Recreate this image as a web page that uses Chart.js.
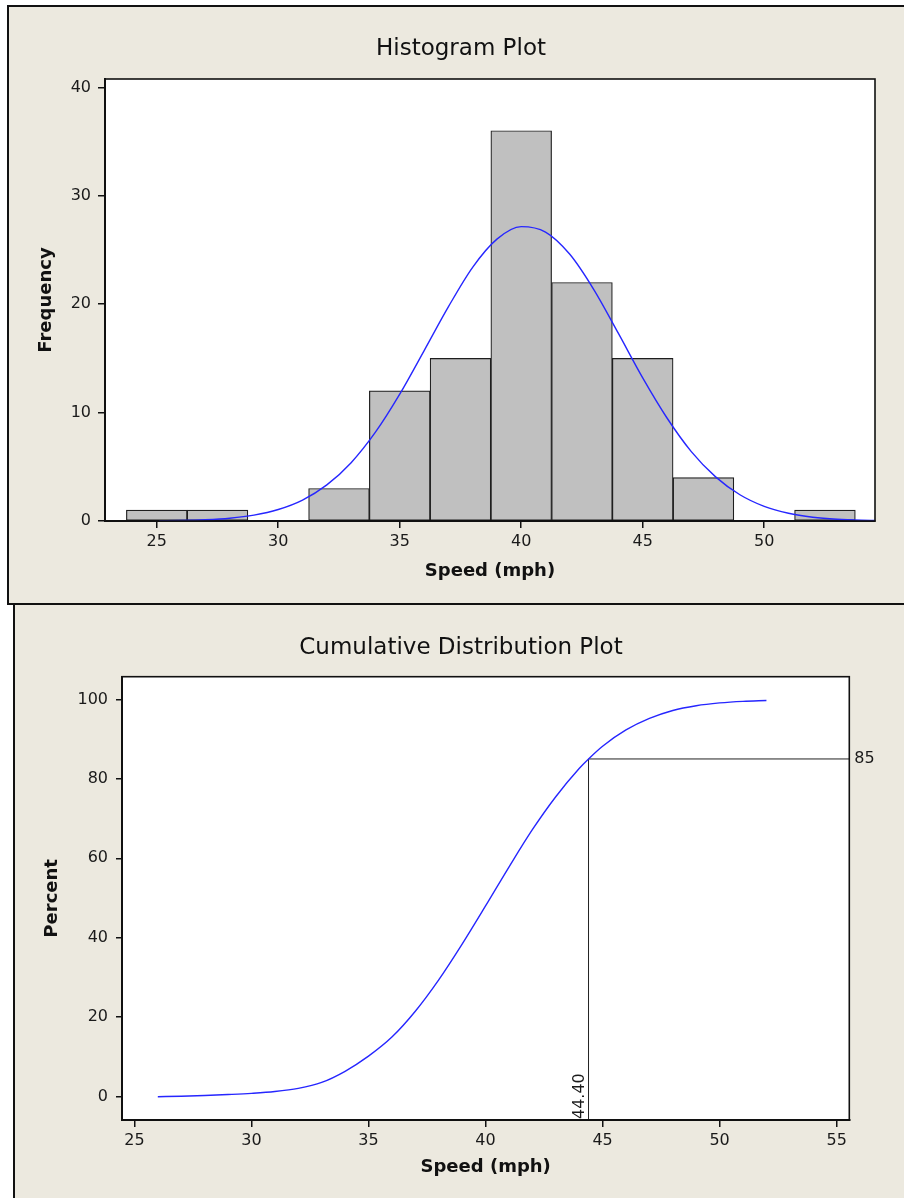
<!DOCTYPE html>
<html lang="en">
<head>
<meta charset="UTF-8">
<title>Histogram and Cumulative Distribution Plot</title>
<script src="https://cdn.jsdelivr.net/npm/chart.js"></script>
<style>
  body { margin:0; background:#fff; width:904px; height:1198px; overflow:hidden; position:relative; }
  .panel { position:absolute; background:#ECE9DF; box-sizing:border-box; }
  #panelTop { left:7px; top:5px; width:920px; height:600px; border:2px solid #111; border-right:none; }
  #panelBottom { left:13px; top:603px; width:920px; height:620px; border-left:2px solid #111; border-top:2px solid #111; }
  canvas { position:absolute; left:0; z-index:2; }
  .plotTitle { position:absolute; left:0; width:922px; height:28px; line-height:28px; text-align:center;
               font-family:"DejaVu Sans", Verdana, sans-serif; font-size:23px; color:#111; z-index:3; }
</style>
</head>
<body>
<div class="panel" id="panelTop"></div>
<div class="panel" id="panelBottom"></div>
<div class="plotTitle" style="top:33px">Histogram Plot</div>
<div class="plotTitle" style="top:632px">Cumulative Distribution Plot</div>
<canvas id="histChart" width="904" height="604" style="top:0"></canvas>
<canvas id="cdfChart" width="904" height="594" style="top:604px"></canvas>

<script>
const FONT = '"DejaVu Sans", Verdana, sans-serif';

// histogram: bin centres (mph) and counts
const histCenters = [25, 27.5, 30, 32.5, 35, 37.5, 40, 42.5, 45, 47.5, 50, 52.5];
const histCounts  = [1, 1, 0, 3, 12, 15, 36, 22, 15, 4, 0, 1];

// fitted normal curve
const fitSpeeds = [25.1, 26, 27, 28, 29, 30, 31, 32, 33, 34, 35, 36, 37, 38, 39, 40, 41, 42, 43, 44, 45, 46, 47, 48, 49, 50, 51, 52, 53, 54, 54.6];
const fitFreq   = [0.02, 0.05, 0.12, 0.26, 0.54, 1.06, 1.93, 3.33, 5.38, 8.19, 11.7, 15.7, 19.75, 23.4, 26.0, 27.15, 26.65, 24.6, 21.3, 17.3, 13.2, 9.5, 6.4, 4.07, 2.42, 1.35, 0.71, 0.35, 0.16, 0.07, 0.05];

// cumulative distribution
const cdfSpeeds  = [26, 27, 28, 29, 30, 31, 32, 33, 34, 35, 36, 37, 38, 39, 40, 41, 42, 43, 44, 44.4, 45, 46, 47, 48, 49, 50, 51, 52];
const cdfPercent = [0.0, 0.12, 0.3, 0.55, 0.85, 1.3, 2.1, 3.6, 6.4, 10.2, 15.0, 21.5, 29.4, 38.4, 48.0, 57.8, 67.2, 75.5, 82.6, 85.0, 88.2, 92.3, 95.2, 97.2, 98.4, 99.1, 99.5, 99.7];
const refSpeed = 44.40;
const refPercent = 85;

// axis ranges
const histX = { min: 22.87, max: 54.56 };
const histY = { min: 0, max: 40.77 };
const cdfX = { min: 24.47, max: 55.54 };
const cdfY = { min: -5.86, max: 105.7 };

const frame = {
  id: 'frame',
  beforeDraw(chart) {
    const { ctx, chartArea: a } = chart;
    ctx.save();
    ctx.fillStyle = '#fff';
    ctx.fillRect(a.left, a.top, a.right - a.left, a.bottom - a.top);
    ctx.restore();
  },
  afterDraw(chart) {
    const { ctx, chartArea: a } = chart;
    ctx.save();
    ctx.strokeStyle = '#111';
    ctx.lineWidth = 1.6;
    ctx.strokeRect(a.left, a.top, a.right - a.left, a.bottom - a.top);
    ctx.restore();
  }
};

function axisX(range, h, titlePadBottom) {
  return {
    type: 'linear', min: range.min, max: range.max, offset: false,
    grid: { display: true, offset: false, drawOnChartArea: false, tickLength: 7, color: '#111', lineWidth: 1.5 },
    border: { color: '#111', width: 2 },
    ticks: { stepSize: 5, includeBounds: false, padding: 4, color: '#1a1a1a', font: { family: FONT, size: 16 } },
    title: { display: true, text: 'Speed (mph)', color: '#111', font: { family: FONT, size: 18, weight: 'bold' }, padding: { top: 0, bottom: titlePadBottom } },
    afterFit: s => { s.height = h; }
  };
}

function axisY(range, step, w, tl, pad, label, titlePadTop) {
  return {
    min: range.min, max: range.max,
    grid: { display: true, drawOnChartArea: false, tickLength: tl, color: '#111', lineWidth: 1.5 },
    border: { color: '#111', width: 2 },
    ticks: { stepSize: step, includeBounds: false, padding: pad, color: '#1a1a1a', font: { family: FONT, size: 16 } },
    title: { display: true, text: label, color: '#111', font: { family: FONT, size: 18, weight: 'bold' }, padding: { top: titlePadTop, bottom: 0 } },
    afterFit: s => { s.width = w; }
  };
}

new Chart(document.getElementById('histChart'), {
  type: 'bar',
  data: {
    datasets: [
      {
        type: 'line', order: 0,
        data: fitSpeeds.map((x, i) => ({ x, y: fitFreq[i] })),
        borderColor: '#2626ff', borderWidth: 1.4, pointRadius: 0,
        cubicInterpolationMode: 'monotone'
      },
      {
        type: 'bar', order: 1,
        data: histCenters.map((x, i) => ({ x, y: histCounts[i] || null })),
        backgroundColor: '#C0C0C0', borderColor: '#1e1e1e', borderWidth: 1.2,
        borderSkipped: false, barPercentage: 1, categoryPercentage: 1
      }
    ]
  },
  options: {
    responsive: false, animation: false,
    layout: { padding: { left: 0, right: 29, top: 79, bottom: 0 } },
    plugins: { legend: { display: false }, tooltip: { enabled: false }, title: { display: false } },
    scales: {
      x: axisX(histX, 83, 22.2),
      y: axisY(histY, 10, 105, 7, 7, 'Frequency', 35.2)
    }
  },
  plugins: [frame]
});

const refLabels = {
  id: 'refLabels',
  afterDraw(chart) {
    const { ctx, chartArea: a, scales: { x, y } } = chart;
    ctx.save();
    ctx.font = '16px ' + FONT;
    ctx.fillStyle = '#1a1a1a';
    ctx.textAlign = 'left';
    ctx.textBaseline = 'middle';
    ctx.fillText(String(refPercent), a.right + 5, y.getPixelForValue(refPercent));
    ctx.translate(x.getPixelForValue(refSpeed) - 1, a.bottom);
    ctx.rotate(-Math.PI / 2);
    ctx.textBaseline = 'bottom';
    ctx.fillText(refSpeed.toFixed(2), 1, 0);
    ctx.restore();
  }
};

new Chart(document.getElementById('cdfChart'), {
  type: 'line',
  data: {
    datasets: [
      {
        data: cdfSpeeds.map((x, i) => ({ x, y: cdfPercent[i] })),
        borderColor: '#2626ff', borderWidth: 1.4, pointRadius: 0,
        cubicInterpolationMode: 'monotone'
      },
      {
        data: [{ x: refSpeed, y: cdfY.min }, { x: refSpeed, y: refPercent }, { x: cdfX.max, y: refPercent }],
        borderColor: '#222', borderWidth: 1, pointRadius: 0, tension: 0
      }
    ]
  },
  options: {
    responsive: false, animation: false,
    layout: { padding: { left: 0, right: 54.7, top: 72.7, bottom: 0 } },
    plugins: { legend: { display: false }, tooltip: { enabled: false }, title: { display: false } },
    scales: {
      x: axisX(cdfX, 78, 20.2),
      y: axisY(cdfY, 20, 122, 6, 8, 'Percent', 41.2)
    }
  },
  plugins: [frame, refLabels]
});
</script>
</body>
</html>
